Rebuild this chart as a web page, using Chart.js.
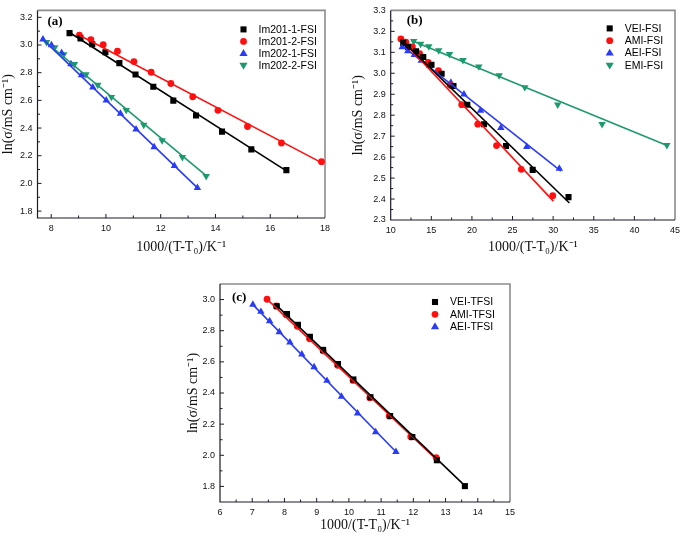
<!DOCTYPE html>
<html>
<head>
<meta charset="utf-8">
<script src="https://cdn.jsdelivr.net/npm/chart.js@4.4.0/dist/chart.umd.min.js"></script>
<style>
body { margin: 0; background: #fff; width: 685px; height: 542px; position: relative; overflow: hidden; }
.box { position: absolute; }
</style>
</head>
<body>
<div class="box" style="left:0;top:0;width:340px;height:265px"><canvas id="ca"></canvas></div>
<div class="box" style="left:340px;top:0;width:345px;height:265px"><canvas id="cb"></canvas></div>
<div class="box" style="left:170px;top:270px;width:350px;height:272px"><canvas id="cc"></canvas></div>
<script>
// ---- panel (a) ----
var aNames = ['Im201-1-FSI', 'Im201-2-FSI', 'Im202-1-FSI', 'Im202-2-FSI'];
var aX1 = [8.67, 9.07, 9.50, 9.98, 10.49, 11.08, 11.73, 12.46, 13.29, 14.24, 15.31, 16.59];
var aY1 = [3.086, 3.048, 3.006, 2.948, 2.869, 2.787, 2.698, 2.598, 2.491, 2.374, 2.246, 2.096];
var aX2 = [9.03, 9.45, 9.90, 10.42, 11.02, 11.65, 12.37, 13.17, 14.09, 15.17, 16.41, 17.87];
var aY2 = [3.072, 3.039, 3.002, 2.955, 2.880, 2.803, 2.722, 2.626, 2.528, 2.411, 2.292, 2.157];
var aX3 = [7.70, 8.01, 8.38, 8.72, 9.11, 9.52, 10.01, 10.53, 11.10, 11.76, 12.50, 13.34];
var aY3 = [3.041, 2.999, 2.943, 2.862, 2.782, 2.694, 2.600, 2.505, 2.390, 2.262, 2.127, 1.968];
var aX4 = [7.83, 8.13, 8.46, 8.85, 9.27, 9.70, 10.20, 10.74, 11.38, 12.05, 12.79, 13.66];
var aY4 = [3.020, 2.983, 2.932, 2.862, 2.787, 2.712, 2.624, 2.530, 2.423, 2.311, 2.190, 2.052];
var aFitX = [[8.67, 16.59], [9.03, 17.87], [7.65, 13.38], [7.75, 13.69]];
var aFitY = [[3.09, 2.09], [3.07, 2.15], [3.05, 1.96], [3.03, 2.05]];
var aXTicks = [8, 10, 12, 14, 16, 18];
var aYTicks = [1.8, 2.0, 2.2, 2.4, 2.6, 2.8, 3.0, 3.2];

// ---- panel (b) ----
var bNames = ['VEI-FSI', 'AMI-FSI', 'AEI-FSI', 'EMI-FSI'];
var bX1 = [11.54, 12.14, 13.12, 14.01, 15.02, 16.27, 17.73, 19.43, 21.49, 24.20, 27.48, 31.89];
var bY1 = [3.145, 3.126, 3.105, 3.078, 3.041, 2.998, 2.939, 2.850, 2.757, 2.653, 2.539, 2.409];
var bX2 = [11.25, 11.86, 12.67, 13.56, 14.61, 15.87, 17.32, 18.74, 20.72, 23.03, 26.07, 29.95];
var bY2 = [3.164, 3.148, 3.126, 3.094, 3.052, 3.013, 2.943, 2.850, 2.757, 2.655, 2.542, 2.416];
var bX3 = [11.42, 12.10, 12.91, 13.76, 14.82, 15.99, 17.41, 19.02, 21.05, 23.56, 26.75, 30.76];
var bY3 = [3.125, 3.106, 3.088, 3.060, 3.036, 3.001, 2.956, 2.900, 2.822, 2.740, 2.649, 2.545];
var bX4 = [12.83, 13.68, 14.69, 15.91, 17.24, 18.90, 20.85, 23.35, 26.51, 30.56, 36.02, 44.0];
var bY4 = [3.153, 3.140, 3.128, 3.109, 3.091, 3.063, 3.032, 2.990, 2.933, 2.850, 2.757, 2.657];
var bFitX = [[11.25, 32.0], [11.13, 30.03], [11.25, 30.96], [12.55, 44.1]];
var bFitY = [[3.162, 2.381], [3.168, 2.39], [3.137, 2.533], [3.156, 2.654]];
var bXTicks = [10, 15, 20, 25, 30, 35, 40, 45];
var bYTicks = [2.3, 2.4, 2.5, 2.6, 2.7, 2.8, 2.9, 3.0, 3.1, 3.2, 3.3];

// ---- panel (c) ----
var cNames = ['VEI-TFSI', 'AMI-TFSI', 'AEI-TFSI'];
var cX1 = [7.76, 8.08, 8.42, 8.79, 9.20, 9.66, 10.14, 10.67, 11.28, 11.97, 12.73, 13.60];
var cY1 = [2.957, 2.907, 2.838, 2.761, 2.677, 2.586, 2.487, 2.373, 2.252, 2.117, 1.968, 1.802];
var cX2 = [7.46, 7.75, 8.05, 8.40, 8.78, 9.20, 9.65, 10.13, 10.65, 11.25, 11.92, 12.71];
var cY2 = [3.002, 2.959, 2.903, 2.828, 2.748, 2.670, 2.578, 2.481, 2.369, 2.252, 2.119, 1.985];
var cX3 = [7.02, 7.27, 7.54, 7.84, 8.17, 8.54, 8.92, 9.32, 9.77, 10.27, 10.83, 11.46];
var cY3 = [2.968, 2.922, 2.862, 2.791, 2.726, 2.649, 2.567, 2.479, 2.377, 2.270, 2.149, 2.022];
var cFitX = [[7.73, 13.62], [7.44, 12.73], [6.99, 11.49]];
var cFitY = [[2.968, 1.80], [3.006, 1.97], [2.974, 2.016]];
var cXTicks = [6, 7, 8, 9, 10, 11, 12, 13, 14, 15];
var cYTicks = [1.8, 2.0, 2.2, 2.4, 2.6, 2.8, 3.0];

var yTitle = 'ln(\u03C3/mS cm\u207B\u00B9)';
var xTitle = '1000/(T-T\u2080)/K\u207B\u00B9';

var colors = ['#000000', '#ff1010', '#2a3cf5', '#1c9a6e'];
var styles = [
    { pointStyle: 'rect', radius: 4.3, rotation: 0 },
    { pointStyle: 'circle', radius: 3.4, rotation: 0 },
    { pointStyle: 'triangle', radius: 4.3, rotation: 0 },
    { pointStyle: 'triangle', radius: 4.3, rotation: 180 }
];

var zip = function(xs, ys) {
    return xs.map(function(x, i) { return { x: x, y: ys[i] }; });
};

// inner frame, inward ticks (major + minor halfway)
var frameTicks = {
    id: 'frameTicks',
    beforeDatasetsDraw: function(chart) {
        var ctx = chart.ctx, a = chart.chartArea;
        var xs = chart.scales.x, ys = chart.scales.y;
        ctx.save();
        ctx.strokeStyle = '#8c8c8c';
        ctx.lineWidth = 1.6;
        ctx.beginPath();
        ctx.moveTo(a.left, a.top); ctx.lineTo(a.right, a.top); ctx.lineTo(a.right, a.bottom);
        ctx.stroke();
        ctx.strokeStyle = '#1b1b2b';
        ctx.lineWidth = 1.2;
        ctx.beginPath();
        ctx.moveTo(a.left, a.top); ctx.lineTo(a.left, a.bottom); ctx.lineTo(a.right, a.bottom);
        ctx.stroke();
        ctx.lineWidth = 1;
        ctx.beginPath();
        var xt = xs.ticks.map(function(t) { return t.value; });
        var yt = ys.ticks.map(function(t) { return t.value; });
        var xStep = xt[1] - xt[0], yStep = yt[1] - yt[0];
        xt.forEach(function(v) {
            [v, v + xStep / 2].forEach(function(u, k) {
                var px = xs.getPixelForValue(u);
                if (px <= a.left + 1 || px >= a.right - 1) return;
                ctx.moveTo(px, a.bottom); ctx.lineTo(px, a.bottom - (k === 0 ? 4 : 2.5));
            });
        });
        yt.forEach(function(v) {
            [v, v + yStep / 2].forEach(function(u, k) {
                var py = ys.getPixelForValue(u);
                if (py <= a.top + 1 || py >= a.bottom - 1) return;
                ctx.moveTo(a.left, py); ctx.lineTo(a.left + (k === 0 ? 4 : 2.5), py);
            });
        });
        ctx.stroke();
        ctx.restore();
    }
};

var drawMarker = function(ctx, style, x, y) {
    var r = style.radius;
    ctx.beginPath();
    if (style.pointStyle === 'rect') {
        var s = r * Math.SQRT1_2;
        ctx.rect(x - s, y - s, 2 * s, 2 * s);
    } else if (style.pointStyle === 'circle') {
        ctx.arc(x, y, r, 0, Math.PI * 2);
    } else {
        var dir = style.rotation === 180 ? -1 : 1;
        ctx.moveTo(x, y - dir * r);
        ctx.lineTo(x - r * 0.95, y + dir * r * 0.6);
        ctx.lineTo(x + r * 0.95, y + dir * r * 0.6);
        ctx.closePath();
    }
    ctx.fill();
};

var panelDecor = {
    id: 'panelDecor',
    afterDraw: function(chart, args, opts) {
        var ctx = chart.ctx, a = chart.chartArea;
        ctx.save();
        ctx.fillStyle = '#000';
        ctx.font = 'bold 13px "Liberation Serif"';
        ctx.textBaseline = 'middle';
        ctx.fillText(opts.tag, a.left + opts.tagX, a.top + opts.tagY);
        ctx.font = '10.5px "Liberation Sans"';
        opts.names.forEach(function(name, i) {
            var y = a.top + opts.legY + i * opts.legDy;
            ctx.fillStyle = colors[i];
            drawMarker(ctx, styles[i], a.left + opts.legX, y);
            ctx.fillStyle = '#000';
            ctx.fillText(name, a.left + opts.legX + 15, y + 0.5);
        });
        ctx.restore();
    }
};

var makePanel = function(id, p) {
    var datasets = [];
    p.series.forEach(function(s, i) {
        datasets.push({
            label: p.names[i] + ' fit',
            data: zip(p.fitX[i], p.fitY[i]),
            showLine: true,
            borderColor: colors[i],
            borderWidth: 1.6,
            pointRadius: 0,
            order: 1
        });
        datasets.push({
            label: p.names[i],
            data: zip(s[0], s[1]),
            showLine: false,
            backgroundColor: colors[i],
            borderWidth: 0,
            pointStyle: styles[i].pointStyle,
            pointRadius: styles[i].radius,
            pointRotation: styles[i].rotation,
            order: 2
        });
    });
    return new Chart(document.getElementById(id), {
        type: 'scatter',
        data: { datasets: datasets },
        plugins: [frameTicks, panelDecor],
        options: {
            responsive: true,
            maintainAspectRatio: false,
            animation: false,
            events: [],
            layout: { padding: { left: p.padLeft, right: p.padRight, top: p.padTop, bottom: 0 } },
            plugins: {
                legend: { display: false },
                tooltip: { enabled: false },
                panelDecor: p.decor
            },
            scales: {
                x: {
                    type: 'linear',
                    min: p.xMin, max: p.xMax,
                    grid: { display: false, drawTicks: false },
                    border: { display: false },
                    afterBuildTicks: function(scale) {
                        scale.ticks = p.xTicks.map(function(v) { return { value: v }; });
                    },
                    ticks: {
                        padding: 5, autoSkip: false, maxRotation: 0,
                        color: '#111', font: { family: 'Liberation Sans', size: 9 },
                        callback: function(v) { return String(v); }
                    },
                    title: {
                        display: true, text: xTitle, color: '#111',
                        font: { family: 'Liberation Serif', size: 14 },
                        padding: { top: 0, bottom: p.xTitlePad }
                    },
                    afterFit: function(scale) { scale.height = p.xAxisH; }
                },
                y: {
                    type: 'linear',
                    min: p.yMin, max: p.yMax,
                    grid: { display: false, drawTicks: false },
                    border: { display: false },
                    afterBuildTicks: function(scale) {
                        scale.ticks = p.yTicks.map(function(v) { return { value: v }; });
                    },
                    ticks: {
                        padding: 5, autoSkip: false,
                        color: '#111', font: { family: 'Liberation Sans', size: 9 },
                        callback: function(v) { return Number(v).toFixed(1); }
                    },
                    title: {
                        display: true, text: yTitle, color: '#111',
                        font: { family: 'Liberation Serif', size: 14 },
                        padding: { top: 0, bottom: 0 }
                    },
                    afterFit: function(scale) { scale.width = p.yAxisW; }
                }
            }
        }
    });
};

makePanel('ca', {
    names: aNames,
    series: [[aX1, aY1], [aX2, aY2], [aX3, aY3], [aX4, aY4]],
    fitX: aFitX, fitY: aFitY, xTicks: aXTicks, yTicks: aYTicks,
    xMin: 7.5, xMax: 18, yMin: 1.75, yMax: 3.25,
    padLeft: 0, padRight: 15, padTop: 4, yAxisW: 37.5, xAxisH: 47, xTitlePad: 9,
    decor: { tag: '(a)', tagX: 10, tagY: 11, names: aNames, legX: 206, legY: 19, legDy: 12 }
});

makePanel('cb', {
    names: bNames,
    series: [[bX1, bY1], [bX2, bY2], [bX3, bY3], [bX4, bY4]],
    fitX: bFitX, fitY: bFitY, xTicks: bXTicks, yTicks: bYTicks,
    xMin: 10, xMax: 45, yMin: 2.3, yMax: 3.3,
    padLeft: 10, padRight: 6, padTop: 5, yAxisW: 40.7, xAxisH: 45, xTitlePad: 9,
    decor: { tag: '(b)', tagX: 16, tagY: 10, names: bNames, legX: 219, legY: 18, legDy: 12.3 }
});

makePanel('cc', {
    names: cNames,
    series: [[cX1, cY1], [cX2, cY2], [cX3, cY3]],
    fitX: cFitX, fitY: cFitY, xTicks: cXTicks, yTicks: cYTicks,
    xMin: 6, xMax: 15, yMin: 1.7, yMax: 3.1,
    padLeft: 15, padRight: 5, padTop: 14, yAxisW: 35, xAxisH: 40, xTitlePad: 8,
    decor: { tag: '(c)', tagX: 12, tagY: 14, names: cNames, legX: 215, legY: 18, legDy: 12.3 }
});
</script>
</body>
</html>
